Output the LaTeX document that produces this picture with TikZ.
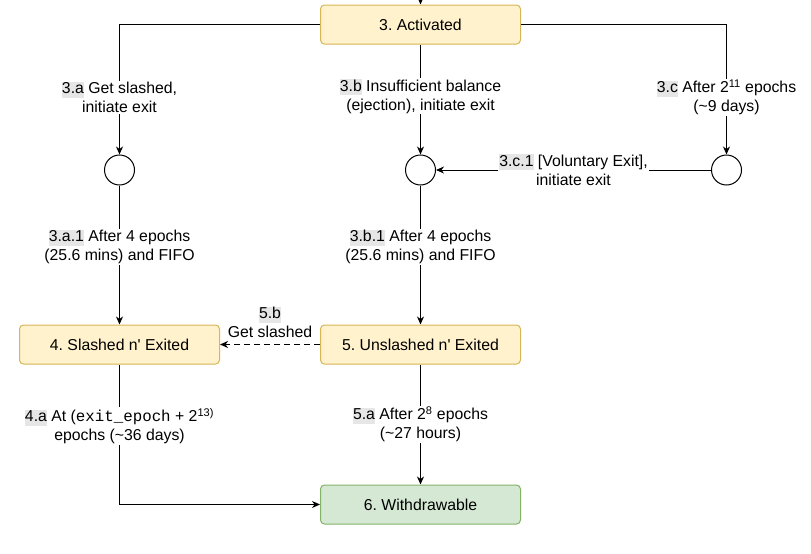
\documentclass[tikz,border=0pt]{standalone}
\usepackage{fontspec}
\setmainfont{Liberation Sans}
\setmonofont{Liberation Mono}
\usetikzlibrary{positioning}
\usetikzlibrary{arrows.meta}
\definecolor{actfill}{HTML}{FFF2CC}
\definecolor{actline}{HTML}{D6B656}
\definecolor{donefill}{HTML}{D5E8D4}
\definecolor{doneline}{HTML}{82B366}
\definecolor{idgrey}{HTML}{E6E6E6}
\newcommand{\stepid}[1]{{\setlength{\fboxsep}{0pt}\colorbox{idgrey}{\rule[-4pt]{0pt}{16pt}#1}}}
\frenchspacing

\begin{document}
\begin{tikzpicture}[
        x=1pt, y=-1pt,
        font=\fontsize{15.8}{19}\selectfont,
        stage/.style={draw=actline, fill=actfill, rectangle, rounded corners=4pt, line width=1pt, minimum width=200pt, minimum height=39pt, align=center},
        done/.style={draw=doneline, fill=donefill},
        junction/.style={draw, circle, line width=1pt, minimum size=30pt, inner sep=0pt, fill=white},
        lbl/.style={fill=white, align=center, inner sep=1pt},
        arrow/.style={line width=1pt, -{Stealth[length=8pt, width=7pt, inset=2.5pt]}},
    ]
        \useasboundingbox (0,0) rectangle (811,554);

        \node[stage] (activated) at (420.5,24.5) {3. Activated};
        \node[stage, below = 280pt of activated] (unslashed) {5. Unslashed n\textquotesingle\ Exited};
        \node[stage, left = 100pt of unslashed] (slashed) {4. Slashed n\textquotesingle\ Exited};
        \node[stage, done, below = 120pt of unslashed] (withdrawable) {6. Withdrawable};
        \node[junction, below = 110pt of activated] (exitb) {};
        \node[junction, above = 139pt of slashed] (exita) {};
        \node[junction, right = 275pt of exitb] (exitc) {};
        \coordinate[above = 5pt of activated] (entry);

        \draw[arrow] (entry) -- (activated);
        \draw[arrow] (activated.west) -| node[lbl, pos=0.78] (lbla) {\stepid{3.a} Get slashed,\\initiate exit} (exita);
        \draw[arrow] (activated) -- node[lbl, pos=0.47] (lblb) {\stepid{3.b} Insufficient balance\\(ejection), initiate exit} (exitb);
        \draw[arrow] (activated.east) -| node[lbl, pos=0.78] (lblc) {\stepid{3.c} After 2\textsuperscript{11} epochs\\(\textasciitilde9 days)} (exitc);
        \draw[arrow] (exitc) -- node[lbl] (lblcone) {\stepid{3.c.1} [Voluntary Exit],\\initiate exit} (exitb);
        \draw[arrow] (exita) -- node[lbl, pos=0.44] (lblaone) {\stepid{3.a.1} After 4 epochs\\(25.6 mins) and FIFO} (slashed);
        \draw[arrow] (exitb) -- node[lbl, pos=0.44] (lblbone) {\stepid{3.b.1} After 4 epochs\\(25.6 mins) and FIFO} (unslashed);
        \draw[arrow, dash pattern=on 6pt off 4pt, line width=1.3pt] (unslashed) -- node[lbl, above=5pt] (lblsb) {\stepid{5.b}\\Get slashed} (slashed);
        \draw[arrow] (slashed) |- node[lbl, pos=0.22] (lblfa) {\stepid{4.a} At (\texttt{exit\_epoch} + 2\textsuperscript{13)}\\epochs (\textasciitilde36 days)} (withdrawable);
        \draw[arrow] (unslashed) -- node[lbl, pos=0.5] (lblsa) {\stepid{5.a} After 2\textsuperscript{8} epochs\\(\textasciitilde27 hours)} (withdrawable);
    \end{tikzpicture}
\end{document}
